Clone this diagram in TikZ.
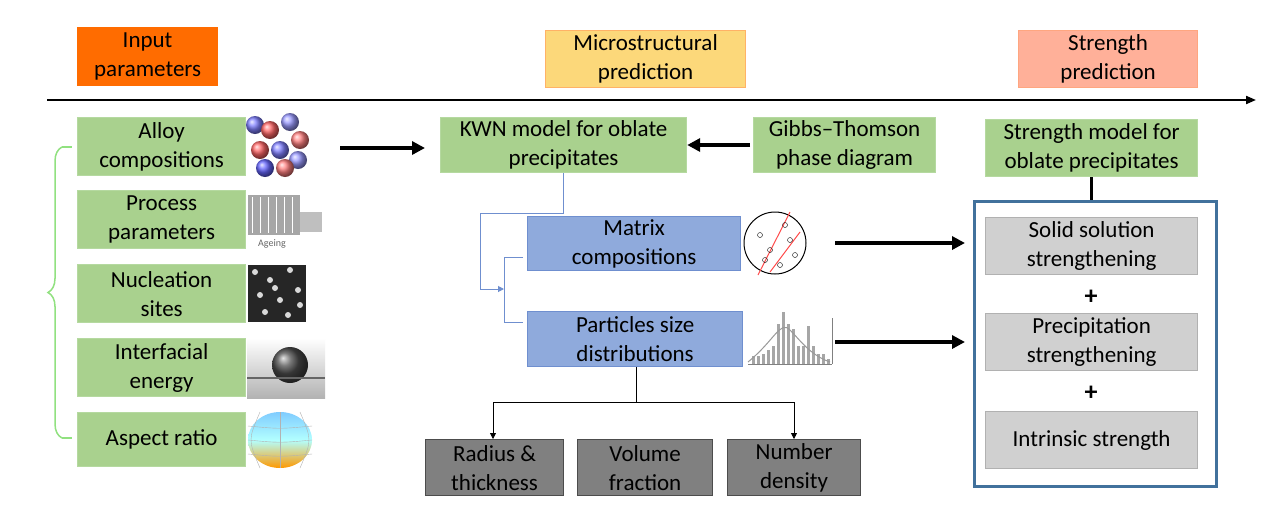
\documentclass[tikz,border=0pt]{standalone}
\usepackage{fontspec}
\setmainfont{Carlito}
\usetikzlibrary{arrows.meta,decorations.pathreplacing,calc}
\definecolor{gfill}{HTML}{A9D18E}\definecolor{gline}{HTML}{B5D9A0}
\definecolor{bfill}{HTML}{8FAADC}\definecolor{bline}{HTML}{6F8FCF}
\definecolor{sfill}{HTML}{D0D0D0}\definecolor{dfill}{HTML}{808080}
\definecolor{frame}{HTML}{41719C}
\begin{document}
\begin{tikzpicture}[x=1pt,y=-1pt,font=\fontsize{23}{29}\selectfont,
 box/.style={draw,line width=1.2pt,align=center,inner sep=0pt},
 green/.style={box,fill=gfill,draw=gline},
 blue/.style={box,fill=bfill,draw=bline},
 grey/.style={box,fill=sfill,draw=sfill!85!black},
 dark/.style={box,fill=dfill,draw=black!70},
 big/.style={-{Triangle[length=13pt,width=13pt]},line width=4pt},
 thin/.style={-{Triangle[length=6pt,width=6pt]},line width=0.8pt}]
\useasboundingbox (0,0) rectangle (1274,528);
\fill[white] (0,0) rectangle (1274,528);
% headers
\node[box,fill=orange!85!red,draw=orange!85!red,minimum width=140,minimum height=58,anchor=north west] (h1) at (77,27) {Input\\parameters};
\node[box,fill=yellow!45!orange!50,draw=orange!60,minimum width=200,minimum height=57,anchor=north west] (h2) at (545,30) {Microstructural\\prediction};
\node[box,fill=orange!45!red!40,draw=orange!60!red!50,minimum width=179,minimum height=57,anchor=north west] (h3) at (1018,30) {Strength\\prediction};
\coordinate (axs) at (47,100); \coordinate (axe) at (1256,100);
\draw[-{Triangle[length=10pt,width=8pt]},line width=2pt] (axs) -- (axe);
% inputs
\node[green,minimum width=168,minimum height=58,anchor=north west] (i1) at (77,117) {Alloy\\compositions};
\node[green,minimum width=168,minimum height=58,anchor=north west] (i2) at (77,190) {Process\\parameters};
\node[green,minimum width=168,minimum height=58,anchor=north west] (i3) at (77,264) {Nucleation\\sites};
\node[green,minimum width=168,minimum height=58,anchor=north west] (i4) at (77,338) {Interfacial\\energy};
\node[green,minimum width=168,minimum height=54,anchor=north west] (i5) at (77,412) {Aspect ratio};
% icons
\foreach \x/\y/\c in {255/125/blue!50,270/130/red!60,290/122/blue!40,300/140/red!50,260/150/red!60,280/150/blue!50,298/160/blue!40,265/168/blue!60,285/168/red!50}
  \shade[ball color=\c] (\x,\y) circle (9);
\fill[gray!70] (248,195) rectangle (300,235); \fill[gray!50] (300,212) rectangle (322,232);
\foreach \x in {252,260,...,296} \draw[white,line width=1pt] (\x,197) -- (\x,233);
\node[font=\fontsize{10}{12}\selectfont,text=gray!80!black] (ag) at (272,244) {Ageing};
\fill[black!85] (248,265) rectangle (306,322);
\foreach \x/\y in {255/272,270/280,290/270,260/295,280/300,298/290,265/312,288/315,300/305,275/288}
  \fill[white!70!gray] (\x,\y) circle (3);
\shade[top color=white,bottom color=gray!60] (247,338) rectangle (325,398);
\shade[ball color=black!70] (290,365) circle (18);
\draw[black!60,line width=2pt] (247,378) -- (325,378);
\shade[top color=cyan!60!blue!50,bottom color=orange!80!yellow,middle color=cyan!30] (280,440) ellipse (32 and 28);
\foreach \a in {-20,0,20} \draw[gray!60] (280+\a,412) .. controls (280+1.6*\a,440) .. (280+\a,468);
\foreach \b in {-14,0,14} \draw[gray!60] (248,440+\b) .. controls (280,443+\b) .. (312,440+\b);
% brace
\draw[gline!80!green,line width=1.5pt,decorate,decoration={brace,amplitude=14pt,mirror,raise=0pt}] (62,147) -- (62,438);
\draw[gline!80!green,line width=1.5pt] (62,147) -- (72,147) (62,438) -- (72,438);
% KWN
\node[green,minimum width=246,minimum height=55,anchor=north west] (kwn) at (440,117) {KWN model for oblate\\precipitates};
\node[green,minimum width=182,minimum height=55,anchor=north west] (gt) at (753,117) {Gibbs--Thomson\\phase diagram};
\coordinate (a1) at (340,148); \coordinate (a2) at (425,148);
\draw[big] (a1) -- (a2);
\coordinate (g1) at (750,145);
\draw[big] (g1) -- (kwn.east|-g1);
% blue boxes
\node[blue,minimum width=213,minimum height=54,anchor=north west] (mat) at (527,216) {Matrix\\compositions};
\node[blue,minimum width=215,minimum height=55,anchor=north west] (psd) at (527,311) {Particles size\\distributions};
\coordinate (k1) at (563,213); \coordinate (k2) at (480,213); \coordinate (k3) at (480,289); \coordinate (k4) at (504,289);
\draw[bline,line width=1pt] (kwn.south-|k1) -- (k1) -- (k2) -- (k3);
\draw[bline,line width=1pt,-{Triangle[length=6pt,width=6pt]}] (k3) -- (k4);
\coordinate (b1) at (504,257); \coordinate (b2) at (504,322);
\draw[bline,line width=1pt] (mat.west|-b1) ++(-4,0) -- (b1) -- (b2) -- ++(19,0);
% icons
\draw[fill=white,line width=1pt] (775,243) circle (31);
\draw[red!70,line width=1pt] (758,275) -- (790,212) (770,272) -- (800,232);
\foreach \x/\y in {760/235,770/250,785/225,795/255,765/260,780/265,790/240} \draw (\x,\y) circle (2.5);
\draw[gray] (748,364) -- (832,364) (832,318) -- (832,364);
\foreach \x/\h in {752/8,757/8,762/10,767/14,772/18,777/40,782/52,787/40,792/35,797/18,802/18,807/38,812/18,817/10,822/10,827/5}
  \fill[gray!70] (\x,364) rectangle ++(3,-\h);
\draw[gray!80,line width=1pt] (748,362) .. controls (775,340) and (780,320) .. (790,330) .. controls (800,340) and (810,355) .. (830,362);
% arrows to strength
\coordinate (m1) at (835,243); \coordinate (m2) at (965,243);
\coordinate (p1) at (835,342); \coordinate (p2) at (965,342);
\draw[big] (m1) -- (m2); \draw[big] (p1) -- (p2);
% bottom
\node[dark,minimum width=138,minimum height=56,anchor=north west] (r1) at (425,439) {Radius \&\\thickness};
\node[dark,minimum width=135,minimum height=56,anchor=north west] (r2) at (577,439) {Volume\\fraction};
\node[dark,minimum width=133,minimum height=56,anchor=north west] (r3) at (727,439) {Number\\density};
\coordinate (d0) at (636,402); \coordinate (dl) at (493,402); \coordinate (dr) at (794,402);
\draw[line width=1pt] (psd.south-|d0) -- (d0) (dl) -- (dr);
\draw[thin] (dl) -- (dl|-r1.north); \draw[thin] (dr) -- (dr|-r3.north);
% strength
\node[green,minimum width=212,minimum height=57,anchor=north west] (sm) at (985,119) {Strength model for\\oblate precipitates};
\node[draw=frame,line width=2.5pt,minimum width=242,minimum height=285,anchor=north west,inner sep=0pt] (fr) at (973,200) {};
\draw[line width=3pt] (sm.south) -- (sm.south|-fr.north);
\node[grey,minimum width=212,minimum height=57,anchor=north west] (s1) at (985,217) {Solid solution\\strengthening};
\node[grey,minimum width=212,minimum height=57,anchor=north west] (s2) at (985,313) {Precipitation\\strengthening};
\node[grey,minimum width=212,minimum height=57,anchor=north west] (s3) at (985,411) {Intrinsic strength};
\node[font=\fontsize{26}{28}\bfseries] (pl1) at (1091,297) {+};
\node[font=\fontsize{26}{28}\bfseries] (pl2) at (1091,393) {+};
\end{tikzpicture}
\end{document}
